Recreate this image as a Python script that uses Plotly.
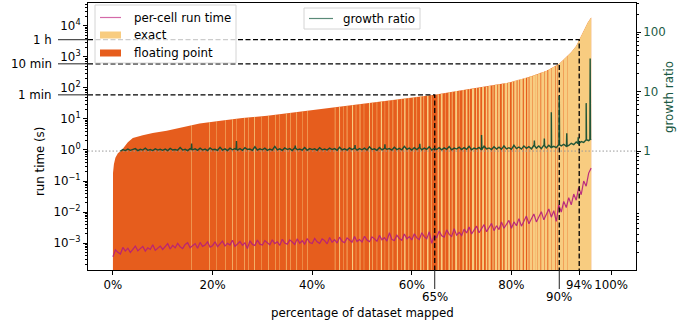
import numpy as np
import plotly.graph_objects as go

FONT = "DejaVu Sans"
FS = 11.8
FP_COLOR = "#e65d1d"
EXACT_COLOR = "#f8cc80"
RUN_COLOR = "#b51d7e"
RUN_LEGEND = "#d46aa8"
GROWTH_COLOR = "#0a4a30"
GROWTH_LEGEND = "#5a8a78"
GROWTH_TICK = "#1b5a44"

# ---------------- data ----------------
# total run time curve (percentage of dataset mapped -> seconds)
area_pct = [0.0, 0.02, 0.2, 0.5, 1.0, 1.8, 3.0, 4.0, 6.0, 8.0, 10.8, 14.0, 17.4, 22.0, 26.0,
            31.0, 40.0, 47.0, 53.5, 60.0, 64.6, 70.0, 75.0, 79.6, 84.0, 87.0, 89.6, 91.0,
            92.0, 93.0, 93.6, 94.5, 95.3, 96.0]
area_s = [3e-5, 0.18, 0.35, 0.56, 0.79, 1.0, 1.78, 2.45, 3.0, 3.55, 4.17, 5.5, 7.2, 8.9, 10.7,
          12.6, 19.0, 26.3, 36.3, 50.0, 60.0, 85.0, 112.0, 151.0, 240.0, 355.0, 600.0, 955.0,
          1413.0, 2239.0, 3600.0, 7079.0, 12589.0, 18620.0]

# cells solved with exact arithmetic (stripe positions in %, widths in %)
exact_pos = [15.8, 19.4, 20.8, 22.6, 24.0, 24.8, 26.4, 27.2, 28.4, 29.8,
             31.2, 32.6, 33.4, 34.8, 35.6, 36.9, 38.0, 39.1,
             44.6, 45.5, 46.3, 47.0, 48.1, 48.8, 49.6, 50.4, 51.5, 52.1, 53.0, 53.9, 54.6,
             55.4, 56.2, 57.1, 57.9, 58.6, 59.4,
             60.3, 61.0, 61.8, 62.4, 63.2, 63.9, 65.3, 66.0, 66.7, 67.5, 68.1, 68.9, 69.5,
             70.3, 71.0, 71.6, 72.3, 73.0, 73.6, 74.3,
             75.0, 75.6, 76.3, 76.9, 77.5, 78.2, 78.9, 79.5, 80.2, 80.8, 81.4, 82.0, 82.7,
             83.3, 83.9, 84.5, 85.0]
exact_w = [0.10, 0.12, 0.08, 0.10, 0.14, 0.08, 0.12, 0.10, 0.15, 0.08,
           0.12, 0.10, 0.08, 0.14, 0.10, 0.12, 0.08, 0.10,
           0.12, 0.18, 0.08, 0.14, 0.22, 0.10, 0.16, 0.08, 0.20, 0.12, 0.10, 0.24, 0.08,
           0.16, 0.12, 0.20, 0.10, 0.28, 0.14,
           0.18, 0.10, 0.26, 0.14, 0.30, 0.12, 0.22, 0.35, 0.10, 0.28, 0.16, 0.40, 0.12,
           0.24, 0.32, 0.14, 0.45, 0.20, 0.30, 0.38,
           0.30, 0.45, 0.22, 0.50, 0.35, 0.28, 0.55, 0.40, 0.30, 0.48, 0.36, 0.52, 0.42,
           0.30, 0.58, 0.45, 0.50]
exact_block = [85.3, 96.0]          # range that is (almost) entirely exact
fp_pos_in_exact = [85.9, 86.6, 87.3, 88.1, 88.8, 89.3, 90.4, 91.3]
fp_w_in_exact = [0.15, 0.10, 0.18, 0.08, 0.12, 0.10, 0.08, 0.06]

# per-cell run time (ms), sampled every 0.5 % from 0 % to 96 %
run_ms = [0.36, 0.60, 0.50, 0.44, 0.72, 0.55, 0.68, 0.50, 0.62, 0.80, 0.56, 0.64, 0.78, 0.55, 0.70, 0.62, 0.88, 0.58, 0.66, 0.80,
          0.62, 0.74, 0.95, 0.64, 0.84, 0.70, 0.98, 0.76, 0.66, 0.90, 1.02, 0.70, 0.80, 0.96, 0.68, 1.05, 0.78, 0.86, 1.08, 0.74,
          0.82, 1.10, 0.76, 0.92, 1.15, 0.80, 0.98, 0.86, 1.22, 0.78, 0.96, 1.12, 0.84, 1.02, 0.66, 1.18, 0.90, 0.84, 1.25, 0.92,
          0.86, 1.20, 1.02, 0.88, 1.28, 0.96, 1.10, 0.84, 1.32, 1.00, 0.92, 1.26, 1.08, 0.90, 1.38, 0.98, 1.18, 0.92, 1.40, 1.04,
          0.96, 1.42, 1.10, 0.98, 1.36, 1.20, 0.94, 1.50, 1.06, 1.28, 1.00, 1.55, 1.14, 1.02, 1.46, 1.22, 1.06, 1.62, 1.12, 1.30,
          1.08, 1.66, 1.24, 1.10, 1.58, 1.36, 1.14, 1.76, 1.26, 1.48, 1.16, 2.15, 1.30, 1.20, 1.80, 1.40, 1.22, 1.95, 1.36, 1.60,
          1.26, 2.00, 1.46, 1.30, 2.15, 1.60, 1.38, 2.30, 0.98, 1.70, 1.50, 2.45, 1.72, 1.55, 2.65, 1.90, 1.62, 2.90, 1.80, 2.20,
          1.75, 2.80, 2.10, 3.30, 1.95, 2.60, 3.50, 2.15, 2.90, 3.90, 2.30, 3.30, 4.30, 2.50, 3.60, 2.70, 4.80, 3.00, 4.20, 5.40,
          3.00, 4.80, 3.60, 6.10, 3.50, 5.20, 7.40, 4.20, 6.40, 8.60, 4.80, 7.20, 10.2, 5.60, 9.00, 12.5, 6.80, 11.0, 5.00, 17.0,
          10.0, 22.0, 14.0, 29.0, 17.0, 38.0, 24.0, 62.0, 36.0, 100.0, 68.0, 180.0, 260.0]
run_start, run_step = 0.0, 0.5

# growth ratio baseline, sampled every 0.5 % from 1.5 % to 96 %
growth = [1.00, 1.06, 1.02, 1.08, 1.03, 1.05, 1.10, 1.02, 1.07, 1.04, 1.12, 1.03, 1.06, 1.02, 1.09, 1.04, 1.07, 1.03,
          1.08, 1.02, 1.11, 1.04, 1.06, 1.03, 1.15, 1.04, 1.07, 1.02, 1.10, 1.05, 1.09, 1.03, 1.12, 1.04, 1.08, 1.02, 1.13, 1.05,
          1.07, 1.03, 1.16, 1.04, 1.09, 1.02, 1.12, 1.05, 1.10, 1.04, 1.10, 1.03, 1.14, 1.06, 1.08, 1.03, 1.18, 1.04, 1.09, 1.05,
          1.12, 1.03, 1.08, 1.04, 1.20, 1.05, 1.09, 1.03, 1.13, 1.06, 1.10, 1.02, 1.14, 1.05, 1.08, 1.04, 1.15, 1.03, 1.10, 1.06,
          1.09, 1.03, 1.14, 1.05, 1.08, 1.04, 1.12, 1.06, 1.10, 1.03, 1.16, 1.05, 1.09, 1.04, 1.13, 1.06, 1.12, 1.04, 1.10, 1.05,
          1.12, 1.04, 1.18, 1.06, 1.09, 1.03, 1.15, 1.05, 1.12, 1.07, 1.10, 1.04, 1.16, 1.06, 1.11, 1.05, 1.20, 1.07, 1.12, 1.04,
          1.14, 1.06, 1.15, 1.05, 1.12, 1.07, 1.18, 1.04, 1.11, 1.06, 1.14, 1.05, 1.13, 1.07, 1.19, 1.05, 1.12, 1.08, 1.16, 1.06,
          1.14, 1.07, 1.20, 1.05, 1.12, 1.08, 1.15, 1.06, 1.21, 1.09, 1.13, 1.06, 1.18, 1.08, 1.16, 1.07, 1.22, 1.09, 1.14, 1.07,
          1.25, 1.10, 1.17, 1.08, 1.22, 1.11, 1.19, 1.09, 1.24, 1.12, 1.22, 1.10, 1.26, 1.13, 1.25, 1.15, 1.20, 1.14, 1.28, 1.22,
          1.30, 1.20, 1.24, 1.35, 1.28, 1.42, 1.32, 1.45, 1.40, 1.55, 1.50, 1.60]
growth_start, growth_step = 1.5, 0.5
# isolated single-cell spikes of the growth ratio (position %, ratio)
spike_pct = [15.8, 24.8, 36.6, 48.6, 54.6, 61.6, 74.0, 84.6, 86.6, 88.0, 89.6, 91.1, 93.4, 95.0, 95.8]
spike_val = [1.34, 1.47, 1.24, 1.26, 1.30, 1.33, 1.86, 1.50, 1.62, 4.50, 8.40, 2.00, 1.70, 6.40, 36.0]

# milestones
milestone_s = [60, 600, 3600]
milestone_names = ["1 min", "10 min", "1 h"]
milestone_pct = [64.6, 89.6, 93.6]
milestone_pct_labels = ["65%", "90%", "94%"]

x_ticks = [0, 20, 40, 60, 80, 100]
x_tick_labels = ["0%", "20%", "40%", "60%", "80%", "100%"]
y_ticks = [1e-3, 1e-2, 1e-1, 1e0, 1e1, 1e2, 1e3, 1e4]
y_tick_labels = ["10<sup>−3</sup>", "10<sup>−2</sup>", "10<sup>−1</sup>", "10<sup>0</sup>",
                 "10<sup>1</sup>", "10<sup>2</sup>", "10<sup>3</sup>", "10<sup>4</sup>"]
y2_ticks = [1, 10, 100]
y2_tick_labels = ["1", "10", "100"]

# ---------------- geometry ----------------
W, H = 694, 328
ML, MR, MT, MB = 88, 58, 3, 58
PW, PH = W - ML - MR, H - MT - MB
X_RANGE = [-5, 105]
Y_RANGE = [-3.87, 4.74]
Y2_RANGE = [-2.0, 2.49]
YBOT = 10 ** (Y_RANGE[0] - 1)


def px(xp):
    return (xp - ML) / PW


def py(yp):
    return (MT + PH - yp) / PH


log_area = np.log10(area_s)


def curve_at(p):
    return 10 ** np.interp(p, area_pct, log_area)


def stripes(pos, widths):
    xs, ys = [], []
    for p, w in zip(pos, widths):
        top = curve_at(p)
        xs += [p - w / 2, p + w / 2, p + w / 2, p - w / 2, p - w / 2, None]
        ys += [YBOT, YBOT, top, top, YBOT, None]
    return xs, ys


fig = go.Figure()

# floating point area
fig.add_trace(go.Scatter(x=area_pct + [area_pct[-1], area_pct[0]], y=area_s + [YBOT, YBOT],
                         fill="toself", fillcolor=FP_COLOR, mode="lines", line=dict(width=0),
                         hoverinfo="skip", showlegend=False))
# exact stripes
sx, sy = stripes(exact_pos, exact_w)
fig.add_trace(go.Scatter(x=sx, y=sy, fill="toself", fillcolor=EXACT_COLOR, mode="lines",
                         line=dict(width=0), hoverinfo="skip", showlegend=False))
# exact block
bx = [p for p in area_pct if exact_block[0] < p <= exact_block[1]]
blk_x = [exact_block[0]] + bx + [exact_block[1], exact_block[0]]
blk_y = [curve_at(exact_block[0])] + [curve_at(p) for p in bx] + [YBOT, YBOT]
fig.add_trace(go.Scatter(x=blk_x, y=blk_y, fill="toself", fillcolor=EXACT_COLOR, mode="lines",
                         line=dict(width=0), hoverinfo="skip", showlegend=False))
# floating point stripes inside exact block
fx, fy = stripes(fp_pos_in_exact, fp_w_in_exact)
fig.add_trace(go.Scatter(x=fx, y=fy, fill="toself", fillcolor=FP_COLOR, mode="lines",
                         line=dict(width=0), hoverinfo="skip", showlegend=False))

# per-cell run time
run_x = [run_start + i * run_step for i in range(len(run_ms))]
fig.add_trace(go.Scatter(x=run_x, y=[v / 1000 for v in run_ms], mode="lines",
                         line=dict(color=RUN_COLOR, width=1.2), opacity=0.9,
                         hoverinfo="skip", showlegend=False))

# milestone dashed lines
for s, p in zip(milestone_s, milestone_pct):
    fig.add_trace(go.Scatter(x=[X_RANGE[0], p, p], y=[s, s, YBOT], mode="lines",
                             line=dict(color="black", width=1.3, dash="5px,2.5px"),
                             hoverinfo="skip", showlegend=False))

# growth ratio on secondary axis (baseline merged with thin spikes)
growth_x = [growth_start + i * growth_step for i in range(len(growth))]
pts = list(zip(growth_x, growth))
for p, v in zip(spike_pct, spike_val):
    base = float(np.interp(p, growth_x, growth))
    pts += [(p - 0.06, base), (p, v), (p + 0.06, base)]
pts.sort(key=lambda t: t[0])
fig.add_trace(go.Scatter(x=X_RANGE, y=[1, 1], yaxis="y2", mode="lines",
                         line=dict(color="#9a9a9a", width=1, dash="1.5px,2px"),
                         hoverinfo="skip", showlegend=False))
fig.add_trace(go.Scatter(x=[t[0] for t in pts], y=[t[1] for t in pts], yaxis="y2", mode="lines",
                         line=dict(color=GROWTH_COLOR, width=1.4), opacity=0.9,
                         hoverinfo="skip", showlegend=False))

# ---------------- decorations ----------------
shapes = []
annotations = []

# long ticks for milestone times (left) and milestone percentages (bottom)
for s, name in zip(milestone_s, milestone_names):
    shapes.append(dict(type="line", xref="paper", yref="y", x0=px(58), x1=0, y0=s, y1=s,
                       line=dict(color="#222", width=1)))
    annotations.append(dict(xref="paper", yref="y", x=px(54), y=np.log10(s), text=name, showarrow=False,
                            xanchor="right", yanchor="middle", font=dict(size=FS, color="black")))
for p, lab in zip(milestone_pct[:2], milestone_pct_labels[:2]):
    shapes.append(dict(type="line", xref="x", yref="paper", x0=p, x1=p, y0=0, y1=py(289),
                       line=dict(color="#222", width=1)))
    annotations.append(dict(xref="x", yref="paper", x=p, y=py(297), text=lab, showarrow=False,
                            xanchor="center", yanchor="middle", font=dict(size=FS, color="black")))

# legend 1
shapes.append(dict(type="rect", xref="paper", yref="paper", x0=px(95), x1=px(236), y0=py(63), y1=py(5),
                   line=dict(color="#d4d4d4", width=1), fillcolor="rgba(255,255,255,0.8)", layer="above"))
shapes.append(dict(type="line", xref="paper", yref="paper", x0=px(100), x1=px(121), y0=py(17.5), y1=py(17.5),
                   line=dict(color=RUN_LEGEND, width=1.2), layer="above"))
shapes.append(dict(type="rect", xref="paper", yref="paper", x0=px(100), x1=px(121), y0=py(38.5), y1=py(31.5),
                   line=dict(width=0), fillcolor=EXACT_COLOR, layer="above"))
shapes.append(dict(type="rect", xref="paper", yref="paper", x0=px(100), x1=px(121), y0=py(56.5), y1=py(49.5),
                   line=dict(width=0), fillcolor=FP_COLOR, layer="above"))
for txt, yy in [("per-cell run time", 17.5), ("exact", 35), ("floating point", 53)]:
    annotations.append(dict(xref="paper", yref="paper", x=px(132), y=py(yy), text=txt, showarrow=False,
                            xanchor="left", yanchor="middle", font=dict(size=FS, color="black")))
# legend 2
shapes.append(dict(type="rect", xref="paper", yref="paper", x0=px(304), x1=px(420), y0=py(29), y1=py(8),
                   line=dict(color="#d4d4d4", width=1), fillcolor="rgba(255,255,255,0.8)", layer="above"))
shapes.append(dict(type="line", xref="paper", yref="paper", x0=px(309), x1=px(333), y0=py(18.5), y1=py(18.5),
                   line=dict(color=GROWTH_LEGEND, width=1.2), layer="above"))
annotations.append(dict(xref="paper", yref="paper", x=px(341), y=py(18.5), text="growth ratio", showarrow=False,
                        xanchor="left", yanchor="middle", font=dict(size=FS, color="black")))

# axis titles
annotations.append(dict(xref="paper", yref="paper", x=px(362), y=py(313), text="percentage of dataset mapped",
                        showarrow=False, xanchor="center", yanchor="middle", font=dict(size=FS, color="black")))
annotations.append(dict(xref="paper", yref="paper", x=px(40), y=py(162), text="run time (s)", textangle=-90,
                        showarrow=False, xanchor="center", yanchor="middle", font=dict(size=FS, color="black")))
annotations.append(dict(xref="paper", yref="paper", x=px(669), y=py(97), text="growth ratio", textangle=-90,
                        showarrow=False, xanchor="center", yanchor="middle", font=dict(size=FS, color=GROWTH_TICK)))

minor_left = [k * 10.0 ** e for e in range(-4, 5) for k in range(2, 10)]
minor_right = [k * 10.0 ** e for e in range(-2, 3) for k in range(2, 10)]

fig.update_layout(
    width=W, height=H,
    margin=dict(l=ML, r=MR, t=MT, b=MB, pad=0),
    paper_bgcolor="white", plot_bgcolor="white",
    font=dict(family=FONT, size=FS, color="black"),
    showlegend=False,
    shapes=shapes, annotations=annotations,
    xaxis=dict(range=X_RANGE, tickvals=x_ticks + [milestone_pct[2]],
               ticktext=x_tick_labels + [milestone_pct_labels[2]], tickangle=0,
               ticks="outside", ticklen=4, tickwidth=1, tickcolor="black",
               showline=True, linecolor="black", linewidth=1, mirror=True,
               showgrid=False, zeroline=False),
    yaxis=dict(type="log", range=Y_RANGE, tickvals=y_ticks, ticktext=y_tick_labels,
               ticks="outside", ticklen=4, tickwidth=1, tickcolor="black",
               minor=dict(tickvals=minor_left, ticks="outside", ticklen=2, tickcolor="black", showgrid=False),
               showline=True, linecolor="black", linewidth=1,
               showgrid=False, zeroline=False),
    yaxis2=dict(type="log", range=Y2_RANGE, overlaying="y", side="right",
                tickvals=y2_ticks, ticktext=y2_tick_labels, tickfont=dict(color=GROWTH_TICK),
                ticks="outside", ticklen=4, tickwidth=1, tickcolor="black",
                minor=dict(tickvals=minor_right, ticks="outside", ticklen=2, tickcolor="black", showgrid=False),
                showline=True, linecolor="black", linewidth=1,
                showgrid=False, zeroline=False),
)

fig.write_html("out.html")
